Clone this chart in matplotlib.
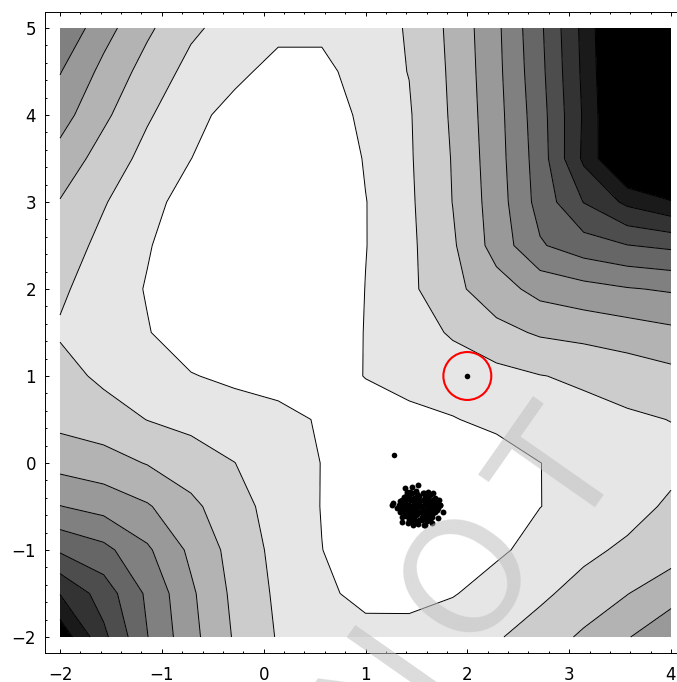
import numpy as np
import matplotlib.pyplot as plt
from matplotlib.ticker import MultipleLocator

# Grille d'échantillonnage 15 x 15 de la fonction
x_grid = np.linspace(-2, 4, 15)
y_grid = np.linspace(-2, 5, 15)

# Valeurs de la fonction (une ligne par y, de y=-2 à y=5)
z_rows = [
    [0.30, 2.76, 4.97, 6.69, 8.10, 9.08, 9.45, 9.70, 9.65, 9.40, 9.10, 8.52, 7.84, 7.05, 6.40],
    [2.04, 3.46, 5.17, 6.83, 8.24, 9.18, 9.82, 10.25, 10.30, 10.06, 9.60, 9.20, 8.60, 8.03, 7.32],
    [4.14, 4.71, 5.84, 7.21, 8.37, 9.29, 9.99, 10.40, 10.60, 10.50, 10.15, 9.70, 9.25, 8.80, 8.50],
    [5.97, 6.35, 6.90, 7.76, 8.65, 9.38, 10.03, 10.50, 10.80, 10.70, 10.40, 10.01, 9.75, 9.40, 8.82],
    [7.35, 7.61, 8.05, 8.54, 8.99, 9.50, 10.02, 10.40, 10.60, 10.50, 10.50, 10.01, 9.70, 9.50, 9.30],
    [8.30, 8.55, 9.02, 9.27, 9.50, 9.70, 10.10, 10.30, 10.30, 10.05, 9.75, 9.45, 9.30, 9.15, 8.98],
    [8.65, 9.20, 9.45, 9.95, 10.20, 10.40, 10.30, 9.98, 9.60, 9.45, 9.30, 9.03, 8.85, 8.57, 8.29],
    [9.10, 9.50, 9.95, 10.50, 10.90, 11.10, 10.90, 9.95, 9.40, 8.90, 8.30, 7.88, 7.70, 7.49, 7.23],
    [8.85, 9.48, 10.06, 10.60, 11.00, 11.30, 11.10, 9.98, 9.21, 8.26, 7.42, 6.67, 6.35, 6.07, 5.89],
    [8.50, 9.26, 9.93, 10.55, 11.00, 11.30, 11.20, 10.03, 9.20, 8.13, 6.60, 5.10, 4.45, 4.03, 3.80],
    [8.05, 8.93, 9.68, 10.40, 10.90, 11.20, 11.10, 10.03, 9.16, 7.98, 6.51, 4.63, 2.97, 1.77, 1.12],
    [7.35, 8.43, 9.30, 9.99, 10.60, 11.00, 11.00, 9.91, 9.11, 7.94, 6.42, 4.52, 1.80, -0.60, -2.50],
    [6.60, 7.80, 8.89, 9.65, 10.39, 10.80, 10.75, 9.69, 9.08, 7.86, 6.36, 4.42, 1.88, -0.80, -2.90],
    [5.95, 7.27, 8.39, 9.30, 9.72, 10.38, 10.38, 9.35, 8.98, 7.81, 6.28, 4.29, 1.78, -0.90, -3.10],
    [5.13, 6.62, 7.82, 8.82, 9.40, 9.70, 9.70, 9.55, 8.90, 7.75, 6.22, 4.19, 1.71, -1.00, -3.20],
]
z_values = np.array(z_rows)

# Niveaux des 10 courbes de niveau
niveaux = np.arange(1, 11)

# Essaim de particules (coeur dense + particules en bordure)
essaim_x = [1.44, 1.50, 1.56, 1.61,
            1.41, 1.46, 1.51, 1.57, 1.62, 1.66,
            1.38, 1.43, 1.48, 1.53, 1.58, 1.63, 1.68,
            1.36, 1.41, 1.46, 1.51, 1.56, 1.61, 1.66, 1.72,
            1.34, 1.39, 1.44, 1.49, 1.54, 1.59, 1.64, 1.69,
            1.33, 1.38, 1.43, 1.48, 1.53, 1.58, 1.63, 1.68, 1.73,
            1.36, 1.41, 1.46, 1.51, 1.56, 1.61, 1.66, 1.71,
            1.35, 1.40, 1.45, 1.50, 1.55, 1.60, 1.65, 1.70,
            1.38, 1.43, 1.48, 1.53, 1.58, 1.63, 1.68,
            1.41, 1.46, 1.51, 1.56, 1.61, 1.66,
            1.40, 1.45, 1.50, 1.55, 1.60, 1.65,
            1.43, 1.48, 1.53, 1.58, 1.63,
            1.45, 1.50, 1.55, 1.60,
            1.47, 1.52, 1.57,
            1.513, 1.454, 1.388, 1.405, 1.273, 1.257, 1.306, 1.339, 1.356,
            1.699, 1.732, 1.764, 1.715, 1.650, 1.584, 1.420, 1.356]
essaim_y = [-0.33, -0.32, -0.34, -0.33,
            -0.36, -0.35, -0.36, -0.35, -0.36, -0.35,
            -0.39, -0.38, -0.40, -0.38, -0.39, -0.37, -0.40,
            -0.42, -0.41, -0.42, -0.41, -0.42, -0.41, -0.42, -0.42,
            -0.44, -0.45, -0.43, -0.45, -0.44, -0.46, -0.44, -0.45,
            -0.48, -0.47, -0.48, -0.47, -0.48, -0.47, -0.48, -0.47, -0.48,
            -0.50, -0.49, -0.51, -0.50, -0.49, -0.51, -0.50, -0.52,
            -0.53, -0.53, -0.54, -0.53, -0.53, -0.54, -0.53, -0.54,
            -0.56, -0.55, -0.57, -0.56, -0.55, -0.57, -0.56,
            -0.59, -0.58, -0.59, -0.58, -0.59, -0.58,
            -0.61, -0.62, -0.60, -0.62, -0.61, -0.62,
            -0.65, -0.64, -0.65, -0.64, -0.65,
            -0.67, -0.68, -0.66, -0.67,
            -0.71, -0.70, -0.71,
            -0.253, -0.272, -0.291, -0.330, -0.463, -0.483, -0.521, -0.560, -0.617,
            -0.425, -0.483, -0.560, -0.636, -0.693, -0.713, -0.693, -0.675]

# Particule isolée et point entouré
isole_x, isole_y = 1.283, 0.092
cible_x, cible_y = 2.0, 1.0

fig = plt.figure(figsize=(6.77, 6.82), dpi=100)
ax = fig.add_axes([45 / 677, 29 / 682, 641 / 677, 641 / 682])

# Zones en niveaux de gris (noir = bas, blanc = haut)
gris = [str(k / 10) for k in range(11)]
bornes = [z_values.min() - 1] + list(niveaux) + [z_values.max() + 1]
ax.contourf(x_grid, y_grid, z_values, levels=bornes, colors=gris)
ax.contour(x_grid, y_grid, z_values, levels=niveaux, colors='black', linewidths=0.7)

# Points
ax.scatter(essaim_x, essaim_y, s=18, color='black', linewidths=0, zorder=3)
ax.scatter([isole_x], [isole_y], s=16, color='black', linewidths=0, zorder=3)
ax.scatter([cible_x], [cible_y], s=16, color='black', linewidths=0, zorder=3)
ax.scatter([cible_x], [cible_y], s=1190, facecolors='none', edgecolors='red',
           linewidths=1.5, zorder=4)

# Cadre et graduations
ax.set_xlim(-2 - 15 / 101.83, 4 + 15 / 101.83)
ax.set_ylim(-2 - 16 / 87, 5 + 16 / 87)
ax.set_xticks(range(-2, 5))
ax.set_yticks(range(-2, 6))
ax.xaxis.set_minor_locator(MultipleLocator(0.2))
ax.yaxis.set_minor_locator(MultipleLocator(0.2))
ax.tick_params(which='both', direction='in', top=True, right=True, width=0.7)
ax.tick_params(which='major', length=3, labelsize=12)
ax.tick_params(axis='x', which='major', pad=9)
ax.tick_params(axis='y', which='major', pad=6.5)
ax.tick_params(which='minor', length=1.7)
for spine in ax.spines.values():
    spine.set_linewidth(0.7)

# Filigrane
for lettre, lx, ly in [('N', 1.18, -2.59), ('O', 2.03, -1.31), ('T', 2.96, -0.16)]:
    ax.text(lx, ly, lettre, fontsize=112, color='#c0c0c0', alpha=0.56,
            rotation=55, rotation_mode='anchor', ha='center', va='center',
            zorder=10, clip_on=False)

fig.savefig('out.png', dpi=100)
